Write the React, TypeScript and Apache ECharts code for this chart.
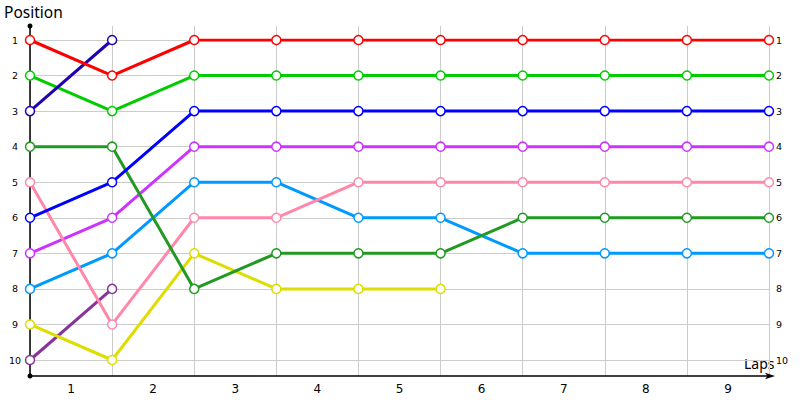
// Grafico de posicoes por volta: cada piloto e uma linha, posicao 1 no topo.
import { useEffect, useRef } from 'react'
import * as echarts from 'echarts'

// pontos nas divisas das voltas (largada + fim de cada volta)
const PONTOS = ['0', '1', '2', '3', '4', '5', '6', '7', '8', '9']
// rotulos das voltas, centrados entre as divisas
const VOLTAS = ['1', '2', '3', '4', '5', '6', '7', '8', '9']

const VERMELHO = [1, 2, 1, 1, 1, 1, 1, 1, 1, 1]
const VERDE = [2, 3, 2, 2, 2, 2, 2, 2, 2, 2]
const AZUL = [6, 5, 3, 3, 3, 3, 3, 3, 3, 3]
const ANIL = [3, 1]
const VERDE_ESCURO = [4, 4, 8, 7, 7, 7, 6, 6, 6, 6]
const ROSA = [5, 9, 6, 6, 5, 5, 5, 5, 5, 5]
const LILAS = [7, 6, 4, 4, 4, 4, 4, 4, 4, 4]
const AZUL_CLARO = [8, 7, 5, 5, 6, 6, 7, 7, 7, 7]
const AMARELO = [9, 10, 7, 8, 8, 8]
const ROXO = [10, 8]

const PILOTOS: { dados: number[]; cor: string }[] = [
  { dados: ROXO, cor: '#883399' },
  { dados: AMARELO, cor: '#dddd00' },
  { dados: AZUL_CLARO, cor: '#0099ff' },
  { dados: LILAS, cor: '#cc33ff' },
  { dados: ROSA, cor: '#ff88aa' },
  { dados: VERDE_ESCURO, cor: '#229922' },
  { dados: AZUL, cor: '#0000ff' },
  { dados: VERDE, cor: '#00cc00' },
  { dados: ANIL, cor: '#2200b0' },
  { dados: VERMELHO, cor: '#ff0000' },
]

const FONTE = 'DejaVu Sans, sans-serif'
const FONTE_TITULO = '"Noto Sans", sans-serif'

export default function App() {
  const ref = useRef<HTMLDivElement>(null)

  useEffect(() => {
    if (!ref.current) return
    document.body.style.margin = '0'
    const chart = echarts.init(ref.current, undefined, { renderer: 'svg' })

    chart.setOption({
      animation: false,
      backgroundColor: '#fff',
      textStyle: { fontFamily: FONTE },
      // nomes dos eixos como textos soltos
      graphic: [
        { type: 'text', x: 4, y: 4, style: { text: 'Position', font: `15.5px ${FONTE_TITULO}`, fill: '#000', align: 'left', verticalAlign: 'top' } },
        { type: 'text', x: 744, y: 356, style: { text: 'Laps', font: `14px ${FONTE_TITULO}`, fill: '#000', align: 'left', verticalAlign: 'top' } },
      ],
      grid: [
        // grade dos dados
        { left: 30, right: 31, top: 40, bottom: 40 },
        // moldura com os eixos e as linhas verticais
        { left: 30, right: 31, top: 26, bottom: 24 },
      ],
      xAxis: [
        { type: 'category', gridIndex: 0, data: PONTOS, boundaryGap: false, show: false },
        {
          type: 'category',
          gridIndex: 1,
          data: VOLTAS,
          boundaryGap: true,
          axisLine: {
            lineStyle: { color: '#000', width: 1.5 },
            symbol: ['circle', 'arrow'],
            symbolSize: [5, 10],
            symbolOffset: [0, 6],
          },
          axisTick: { show: false },
          axisLabel: { color: '#000', fontSize: 12, margin: 7 },
          splitLine: { show: true, lineStyle: { color: '#cccccc', width: 1 } },
        },
      ],
      yAxis: [
        {
          type: 'value',
          gridIndex: 0,
          inverse: true,
          min: 1,
          max: 10,
          interval: 1,
          axisLine: { show: false },
          axisTick: { show: false },
          axisLabel: { color: '#000', fontSize: 9.5, align: 'center', margin: 15 },
          splitLine: { lineStyle: { color: '#cccccc', width: 1 } },
        },
        {
          type: 'value',
          gridIndex: 0,
          position: 'right',
          inverse: true,
          min: 1,
          max: 10,
          interval: 1,
          axisLine: { show: false },
          axisTick: { show: false },
          axisLabel: { color: '#000', fontSize: 9.5, margin: 7 },
          splitLine: { show: false },
        },
        {
          type: 'value',
          gridIndex: 1,
          min: 0,
          max: 1,
          axisLine: {
            show: true,
            onZero: false,
            lineStyle: { color: '#000', width: 1.5 },
            symbol: ['none', 'circle'],
            symbolSize: [5, 5],
          },
          axisTick: { show: false },
          axisLabel: { show: false },
          splitLine: { show: false },
        },
      ],
      series: PILOTOS.map((p) => ({
        type: 'line',
        xAxisIndex: 0,
        yAxisIndex: 0,
        data: p.dados,
        color: p.cor,
        symbol: 'circle',
        symbolSize: 9,
        showAllSymbol: true,
        lineStyle: { color: p.cor, width: 3 },
        itemStyle: { color: '#fff', borderColor: p.cor, borderWidth: 1.5 },
      })),
    })

    return () => chart.dispose()
  }, [])

  return <div ref={ref} style={{ width: 800, height: 400 }} />
}
